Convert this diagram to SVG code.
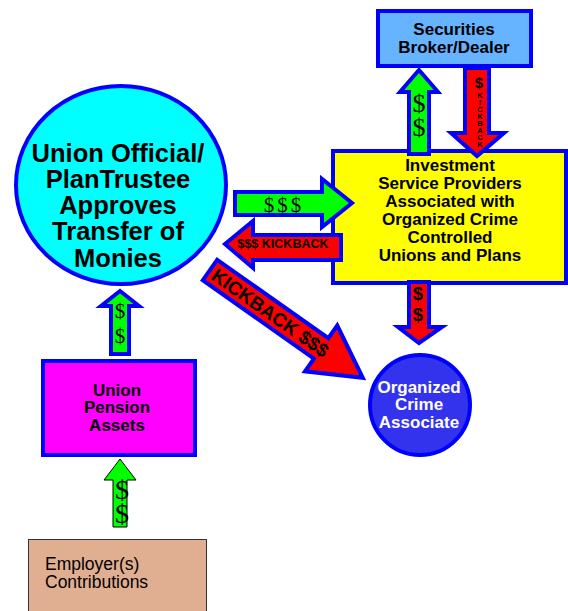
<svg xmlns="http://www.w3.org/2000/svg" width="568" height="611" viewBox="0 0 568 611">
<style>
.node{stroke:#0000ff;stroke-width:4}
.arr{stroke:#0000ff;stroke-width:4;stroke-linejoin:miter}
.g{fill:#00ff00}
.r{fill:#ff0000}
.b{font-family:"Liberation Sans",Arial,sans-serif;font-weight:bold;text-anchor:middle;fill:#000}
.s{font-family:"Liberation Serif","Times New Roman",serif;text-anchor:middle;fill:#000}
</style>
<rect width="568" height="611" fill="#fff"/>
<g id="securities">
<rect class="node" x="378" y="11" width="153" height="55" fill="#66b3ff"/>
<text class="b" font-size="17" x="454" y="35">Securities<tspan x="454" dy="18">Broker/Dealer</tspan></text>
</g>
<g id="investment">
<rect class="node" x="333" y="151" width="233" height="132" fill="#ffff00"/>
<text class="b" font-size="17" x="450" y="171">Investment<tspan x="450" dy="18">Service Providers</tspan><tspan x="450" dy="18">Associated with</tspan><tspan x="450" dy="18">Organized Crime</tspan><tspan x="450" dy="18">Controlled</tspan><tspan x="450" dy="18">Unions and Plans</tspan></text>
</g>
<g id="union-official">
<ellipse class="node" cx="121" cy="185" rx="105" ry="99" fill="#00ffff"/>
<text class="b" font-size="25.5" x="118" y="162">Union Official/<tspan x="118" dy="26">PlanTrustee</tspan><tspan x="118" dy="26">Approves</tspan><tspan x="118" dy="26">Transfer of</tspan><tspan x="118" dy="27">Monies</tspan></text>
</g>
<g id="org-crime">
<circle class="node" cx="420" cy="405" r="50" fill="#3333ee"/>
<text class="b" font-size="17" x="419" y="393" style="fill:#fff">Organized<tspan x="419" dy="17">Crime</tspan><tspan x="419" dy="18">Associate</tspan></text>
</g>
<g id="pension">
<rect class="node" x="43" y="361" width="152" height="94" fill="#ff00ff"/>
<text class="b" font-size="17" x="117" y="396">Union<tspan x="117" dy="17">Pension</tspan><tspan x="117" dy="18">Assets</tspan></text>
</g>
<g id="employer">
<rect x="28.5" y="539.5" width="178" height="80" fill="#e0ae90" stroke="#333" stroke-width="1"/>
<text font-family="'Liberation Sans',Arial,sans-serif" font-size="17.5" x="45" y="570">Employer(s)<tspan x="45" dy="18">Contributions</tspan></text>
</g>
<g id="connectors">
<g id="to-broker">
<polygon class="arr g" points="419,70 438,92 429,92 429,154 409,154 409,92 400,92"/>
<text class="s" font-size="26" x="419" y="112">$<tspan x="419" dy="24">$</tspan></text>
</g>
<g id="broker-kickback">
<polygon class="arr r" points="465,68 489,68 489,133 504,133 477,156 451,133 465,133"/>
<text class="b" font-size="15" x="479" y="88">$<tspan font-size="7.5" x="480" dy="10">K</tspan><tspan font-size="7.5" x="480" dy="7">I</tspan><tspan font-size="7.5" x="480" dy="7">C</tspan><tspan font-size="7.5" x="480" dy="7">K</tspan><tspan font-size="7.5" x="480" dy="7">B</tspan><tspan font-size="7.5" x="480" dy="7">A</tspan><tspan font-size="7.5" x="480" dy="7">C</tspan><tspan font-size="7.5" x="480" dy="7">K</tspan></text>
</g>
<g id="to-investment">
<polygon class="arr g" points="235,192 322,192 322,179 352,203 322,227 322,215 235,215"/>
<text class="s" font-size="21" x="284" y="212" letter-spacing="3">$$$</text>
</g>
<g id="kickback-official">
<polygon class="arr r" points="225,244 253,221 253,235 341,235 341,260 253,260 253,268"/>
<text class="b" font-size="12.5" x="283" y="248">$$$ KICKBACK</text>
</g>
<g id="kickback-crime" transform="translate(210,270) rotate(35.2)">
<polygon class="arr r" points="0,-12.5 136,-12.5 136,-28 187,0 136,28 136,12.5 0,12.5"/>
<text class="b" font-size="19" x="74" y="7">KICKBACK $$$</text>
</g>
<g id="to-crime">
<polygon class="arr r" points="409,282 429,282 429,327 442,327 419,343 398,327 409,327"/>
<text class="b" font-size="18" x="418" y="300">$<tspan x="418" dy="21">$</tspan></text>
</g>
<g id="to-official">
<polygon class="arr g" points="120,291 139,306 129,306 129,354 111,354 111,306 101,306"/>
<text class="s" font-size="21" x="120" y="318">$<tspan x="120" dy="25">$</tspan></text>
</g>
<g id="to-pension">
<polygon class="g" stroke="#000" stroke-width="1" points="120,459 136,480 127,480 127,527 113,527 113,480 104,480"/>
<text class="s" font-size="28" x="122" y="499">$<tspan x="122" dy="24">$</tspan></text>
</g>
</g>
</svg>
